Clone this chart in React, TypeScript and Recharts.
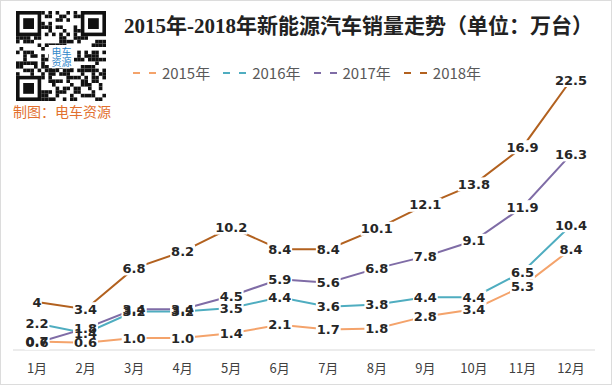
import React from "react";
import { LineChart, Line, XAxis, YAxis, LabelList } from "recharts";

const months = ["1月", "2月", "3月", "4月", "5月", "6月", "7月", "8月", "9月", "10月", "11月", "12月"];
const sales2015 = [0.7, 0.6, 1.0, 1.0, 1.4, 2.1, 1.7, 1.8, 2.8, 3.4, 5.3, 8.4];
const sales2016 = [2.2, 1.4, 3.2, 3.2, 3.5, 4.4, 3.6, 3.8, 4.4, 4.4, 6.5, 10.4];
const sales2017 = [0.6, 1.8, 3.4, 3.4, 4.5, 5.9, 5.6, 6.8, 7.8, 9.1, 11.9, 16.3];
const sales2018 = [4, 3.4, 6.8, 8.2, 10.2, 8.4, 8.4, 10.1, 12.1, 13.8, 16.9, 22.5];

const series = [
  { key: "y2015", label: "2015年", color: "#F4A36B", values: sales2015, fixed: true },
  { key: "y2016", label: "2016年", color: "#4FADC0", values: sales2016, fixed: true },
  { key: "y2017", label: "2017年", color: "#7F6CA6", values: sales2017, fixed: true },
  { key: "y2018", label: "2018年", color: "#B2611F", values: sales2018, fixed: false },
];

const data = months.map((m, i) => {
  const row: { [k: string]: string | number } = { month: m };
  series.forEach((s) => (row[s.key] = s.values[i]));
  return row;
});

const W = 612;
const H = 385;

const fmt = (fixed: boolean, v: any) => (fixed ? Number(v).toFixed(1) : String(v));

// white patch under each label so the line breaks around it
function makeLabelBg(fixed: boolean) {
  return (props: any) => {
    const { x, y, value } = props;
    const w = fmt(fixed, value).length * 7.6 + 2;
    return <rect x={x - w / 2} y={y - 7} width={w} height={14} fill="#fff" />;
  };
}

function makeLabelText(fixed: boolean) {
  return (props: any) => {
    const { x, y, value } = props;
    return (
      <text
        x={x}
        y={y}
        dy={4.5}
        textAnchor="middle"
        fontSize={13}
        fontWeight="bold"
        fontFamily="'DejaVu Sans', sans-serif"
        fill="#262626"
      >
        {fmt(fixed, value)}
      </text>
    );
  };
}

function LegendBox() {
  return (
    <div
      style={{
        position: "absolute",
        top: 61,
        left: 0,
        width: W,
        display: "flex",
        justifyContent: "center",
        gap: 13,
        fontFamily: "'Noto Sans CJK SC', sans-serif",
        fontSize: 15,
        color: "#595959",
      }}
    >
      {series.map((s) => (
        <div key={s.key} style={{ display: "flex", alignItems: "center" }}>
          <svg width={28} height={10}>
            <line x1={0} y1={5} x2={28} y2={5} stroke={s.color} strokeWidth={2} strokeDasharray="7 9" />
          </svg>
          <span style={{ marginLeft: 1 }}>{s.label}</span>
        </div>
      ))}
    </div>
  );
}

// decorative QR-ish block
function QrBlock() {
  const n = 25;
  const cell = 3.6;
  const cells: React.ReactNode[] = [];
  const finder = (r: number, c: number) =>
    (r < 7 && c < 7) || (r < 7 && c >= n - 7) || (r >= n - 7 && c < 7);
  for (let r = 0; r < n; r++) {
    for (let c = 0; c < n; c++) {
      if (finder(r, c)) continue;
      const h = ((r * 73 + c * 151 + r * c * 17) ^ (r * 31)) % 7;
      if (h < 3) cells.push(<rect key={r + "-" + c} x={c * cell} y={r * cell} width={cell} height={cell} fill="#111" />);
    }
  }
  const fp = (x: number, y: number) => (
    <g key={x + "_" + y}>
      <rect x={x} y={y} width={7 * cell} height={7 * cell} fill="#111" />
      <rect x={x + cell} y={y + cell} width={5 * cell} height={5 * cell} fill="#fff" />
      <rect x={x + 2 * cell} y={y + 2 * cell} width={3 * cell} height={3 * cell} fill="#111" />
    </g>
  );
  return (
    <svg width={n * cell} height={n * cell} style={{ position: "absolute", left: 15, top: 10 }}>
      {cells}
      {fp(0, 0)}
      {fp((n - 7) * cell, 0)}
      {fp(0, (n - 7) * cell)}
      <rect x={33} y={34} width={25} height={23} fill="#fff" />
      <text x={45.5} y={45} textAnchor="middle" fontSize={10} fill="#2f86c9" fontFamily="'Noto Sans CJK SC'">电车</text>
      <text x={45.5} y={55} textAnchor="middle" fontSize={10} fill="#2f86c9" fontFamily="'Noto Sans CJK SC'">资源</text>
    </svg>
  );
}

export default function App() {
  return (
    <div style={{ position: "relative", width: W, height: H, background: "#fff", boxSizing: "border-box", border: "1px solid #dcdcdc" }}>
      <style>{"body{margin:0}"}</style>
      <QrBlock />
      <div style={{ position: "absolute", left: 12, top: 100, fontSize: 14, color: "#E2702E", fontFamily: "'Noto Sans CJK SC', sans-serif", whiteSpace: "nowrap" }}>
        制图：电车资源
      </div>
      <div
        style={{
          position: "absolute",
          left: 123,
          top: 8,
          fontSize: 21,
          fontWeight: "bold",
          color: "#222",
          fontFamily: "'Liberation Serif', 'Noto Sans CJK SC', serif",
          whiteSpace: "nowrap",
        }}
      >
        2015年-2018年新能源汽车销量走势（单位：万台）
      </div>
      <LegendBox />
      <LineChart width={W - 2} height={H - 2} data={data} margin={{ top: 49, right: 16, bottom: 4, left: 12 }} style={{ position: "absolute", left: 0, top: 0 }}>
        <XAxis
          dataKey="month"
          padding={{ left: 24, right: 24 }}
          axisLine={{ stroke: "#d9d9d9" }}
          tickLine={false}
          tickMargin={8}
          tick={{ fontSize: 13, fill: "#404040", fontFamily: "'Noto Sans CJK SC', sans-serif" }}
        />
        <YAxis hide domain={[0, 25]} />
        {series.map((s) => (
          <Line key={s.key} dataKey={s.key} name={s.label} stroke={s.color} strokeWidth={2} dot={false} isAnimationActive={false} />
        ))}
        {series.map((s) => (
          <Line key={s.key + "-bg"} dataKey={s.key} stroke="none" dot={false} isAnimationActive={false}>
            <LabelList dataKey={s.key} content={makeLabelBg(s.fixed)} />
          </Line>
        ))}
        {series.map((s) => (
          <Line key={s.key + "-lbl"} dataKey={s.key} stroke="none" dot={false} isAnimationActive={false}>
            <LabelList dataKey={s.key} content={makeLabelText(s.fixed)} />
          </Line>
        ))}
      </LineChart>
    </div>
  );
}
